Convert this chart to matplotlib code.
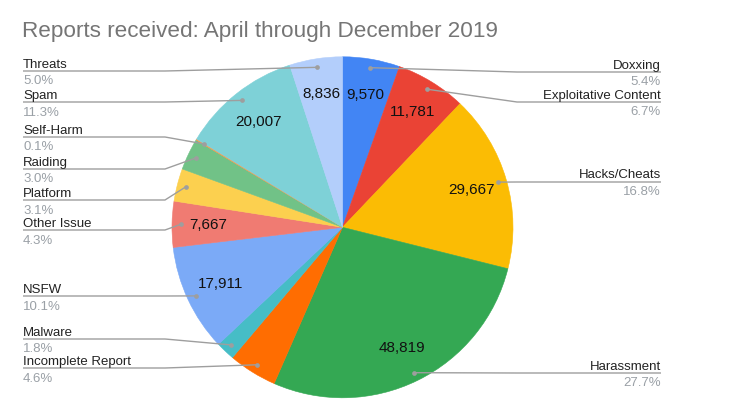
import matplotlib
matplotlib.use('Agg')
import matplotlib.pyplot as plt
import numpy as np

plt.rcParams['font.family'] = ['Liberation Sans', 'DejaVu Sans']

title = "Reports received: April through December 2019"
categories = ["Doxxing", "Exploitative Content", "Hacks/Cheats", "Harassment",
              "Incomplete Report", "Malware", "NSFW", "Other Issue", "Platform",
              "Raiding", "Self-Harm", "Spam", "Threats"]
values = [9570, 11781, 29667, 48819, 8119, 3177, 17911, 7667, 5472, 5295, 177, 20007, 8836]
show_value = [True, True, True, True, False, False, True, True, False, False, False, True, True]
colors = ["#4285F4", "#EA4335", "#FBBC04", "#34A853", "#FF6D01", "#46BDC6",
          "#7BAAF7", "#F07B72", "#FCD04F", "#71C287", "#FF994D", "#7ED1D7", "#B3CEFB"]
label_side = ["R", "R", "R", "R", "L", "L", "L", "L", "L", "L", "L", "L", "L"]
label_line_y = [72, 102, 182, 373, 368, 339, 296, 230, 200, 169, 137, 102, 71]

W, H = 747, 409
fig = plt.figure(figsize=(W / 100, H / 100), dpi=100)
ax = fig.add_axes([0, 0, 1, 1])

cx, cy, R = 342.5, 227.3, 170.5
wedges, _ = ax.pie(values, colors=colors, startangle=-90, counterclock=True,
                   center=(cx, cy), radius=R,
                   wedgeprops=dict(linewidth=0.4))
for w, c in zip(wedges, colors):
    w.set_edgecolor(c)

ax.set_xlim(0, W)
ax.set_ylim(H, 0)
ax.set_aspect('auto')
ax.axis('off')

total = sum(values)
line_col = "#9E9E9E"
for w, cat, v, show, side, ly in zip(wedges, categories, values, show_value, label_side, label_line_y):
    mid = np.deg2rad((w.theta1 + w.theta2) / 2)
    if show:
        tx = cx + 0.79 * R * np.cos(mid)
        ty = cy + 0.79 * R * np.sin(mid)
        ax.text(tx, ty, f"{v:,}", ha='center', va='center', fontsize=11, color="#111111")
    dx = cx + 0.95 * R * np.cos(mid)
    dy = cy + 0.95 * R * np.sin(mid)
    pct = f"{100 * v / total:.1f}%"
    if side == "L":
        xs = [23, 165, dx]
        ax.text(23, ly - 3.3, cat, ha='left', va='baseline', fontsize=9.5, color="#222222")
        ax.text(23, ly + 13.5, pct, ha='left', va='baseline', fontsize=9.5, color="#9AA0A6")
    else:
        xs = [661, 517, dx]
        ax.text(661, ly - 3.5, cat, ha='right', va='baseline', fontsize=9.5, color="#222222")
        ax.text(661, ly + 13, pct, ha='right', va='baseline', fontsize=9.5, color="#9AA0A6")
    ax.plot(xs, [ly, ly, dy], color=line_col, lw=1.0, solid_capstyle='butt')
    ax.plot([dx], [dy], 'o', ms=3.4, color=line_col, mec='none')

ax.text(22, 37.5, title, ha='left', va='baseline', fontsize=16.2, color="#757575")

fig.savefig("out.png", dpi=100)
